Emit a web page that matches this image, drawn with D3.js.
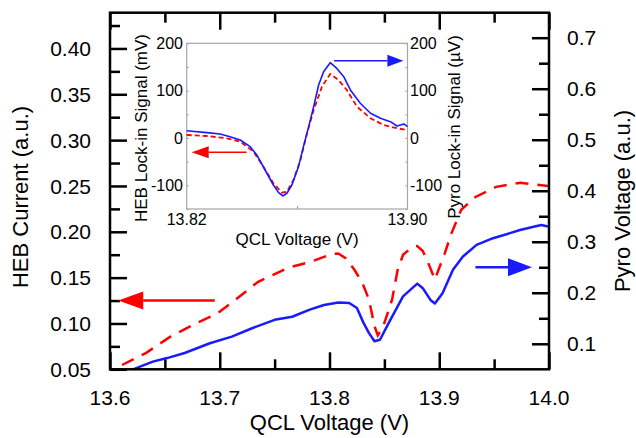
<!DOCTYPE html>
<html>
<head>
<meta charset="utf-8">
<script src="https://cdn.jsdelivr.net/npm/d3@7"></script>
<style>
	body { margin: 0; background: #fff; }
	text { font-family: 'Liberation Sans', Arial, sans-serif; fill: #000; }
</style>
</head>
<body>
<div id="chart"></div>
<script>
// main chart data
let xTicks = [13.6, 13.7, 13.8, 13.9, 14.0]
let hebTicks = [0.05, 0.10, 0.15, 0.20, 0.25, 0.30, 0.35, 0.40]
let pyroTicks = [0.1, 0.2, 0.3, 0.4, 0.5, 0.6, 0.7]

let hebV = [13.611, 13.633, 13.655, 13.678, 13.698, 13.714, 13.735, 13.763, 13.782, 13.802, 13.808, 13.815, 13.823, 13.830, 13.836, 13.841, 13.844, 13.849, 13.857, 13.862, 13.867, 13.875, 13.880, 13.885, 13.890, 13.896, 13.905, 13.911, 13.920, 13.933, 13.952, 13.974, 13.999]
let hebCurrent = [0.0547, 0.068, 0.0856, 0.100, 0.111, 0.1256, 0.1455, 0.161, 0.167, 0.1757, 0.1764, 0.171, 0.158, 0.144, 0.126, 0.097, 0.087, 0.097, 0.126, 0.158, 0.175, 0.183, 0.1845, 0.179, 0.166, 0.148, 0.1765, 0.198, 0.224, 0.238, 0.249, 0.2535, 0.250]

let pyroV = [13.621, 13.639, 13.652, 13.668, 13.691, 13.711, 13.730, 13.750, 13.766, 13.782, 13.795, 13.808, 13.818, 13.825, 13.831, 13.836, 13.841, 13.846, 13.854, 13.867, 13.880, 13.885, 13.892, 13.896, 13.903, 13.9125, 13.9216, 13.934, 13.949, 13.9645, 13.9736, 13.987, 13.993, 13.999]
let pyroVoltage = [0.05, 0.065, 0.072, 0.082, 0.101, 0.114, 0.131, 0.147, 0.153, 0.167, 0.176, 0.181, 0.180, 0.170, 0.141, 0.121, 0.105, 0.108, 0.141, 0.193, 0.218, 0.209, 0.186, 0.179, 0.199, 0.245, 0.271, 0.294, 0.307, 0.317, 0.323, 0.330, 0.333, 0.330]

// inset data
let insetXTicks = [13.82, 13.90]
let insetYTicks = [200, 100, 0, -100]

let insetHebV = [13.82, 13.8273, 13.8345, 13.8394, 13.8442, 13.8478, 13.8514, 13.8545, 13.8563, 13.8587, 13.8612, 13.8636, 13.866, 13.869, 13.872, 13.875, 13.878, 13.8817, 13.8866, 13.8914, 13.8962, 13.90]
let hebLockin = [6.3, 4.2, -0.6, -7.8, -28.9, -60.6, -95.7, -115.5, -113.4, -88.7, -46.5, 9.9, 59.1, 108.4, 135.2, 122.5, 101.4, 66.1, 41.6, 27.5, 20.5, 16.9]

let insetPyroV = [13.82, 13.8273, 13.8321, 13.8357, 13.8394, 13.843, 13.8454, 13.8484, 13.8514, 13.8533, 13.8548, 13.8563, 13.8581, 13.8605, 13.8623, 13.8642, 13.866, 13.8678, 13.8696, 13.872, 13.8744, 13.8769, 13.8793, 13.8829, 13.8866, 13.8902, 13.8938, 13.8962, 13.8987, 13.90]
let pyroLockin = [15.4, 11.3, 8.4, 2.8, -4.2, -18.3, -35.9, -67.6, -99.3, -115.5, -122.5, -116.8, -99.3, -60.6, -18.3, 23.9, 66.1, 112, 140, 159, 147, 129.5, 101.4, 73.3, 52.2, 41.6, 34.4, 25.3, 29.6, 23.9]

let width = 636
let height = 438
let red = '#ff0000'
let blue = '#1a1aff'

let svg = d3
	.select('#chart')
	.append('svg:svg')
	.attr('width', width)
	.attr('height', height)

let mLeft = 110, mRight = 549, mTop = 12.7, mBottom = 369.3

let x = d3.scaleLinear().domain([13.6, 14.0]).range([mLeft, mRight])
let yHeb = d3.scaleLinear().domain([0.05, 0.439]).range([mBottom, mTop])
let yPyro = d3.scaleLinear().domain([0.05, 0.749]).range([mBottom, mTop])

let minorX = d3.range(13.65, 14.0, 0.1)
let minorHeb = d3.range(0.075, 0.43, 0.05)
let minorPyro = d3.range(0.15, 0.7, 0.1)

// inward ticks, no labels, thick lines
let drawTicks = (axis, tr) => {
	let g = svg.append('g').attr('transform', tr).call(axis)
	g.select('.domain').remove()
	g.selectAll('.tick line').attr('stroke', '#000').attr('stroke-width', 2.5)
	g.selectAll('.tick text').remove()
}

drawTicks(d3.axisBottom(x).tickValues(xTicks).tickSize(-17), `translate(0,${mBottom})`)
drawTicks(d3.axisBottom(x).tickValues(minorX).tickSize(-10), `translate(0,${mBottom})`)
drawTicks(d3.axisTop(x).tickValues(xTicks).tickSize(-17), `translate(0,${mTop})`)
drawTicks(d3.axisTop(x).tickValues(minorX).tickSize(-10), `translate(0,${mTop})`)
drawTicks(d3.axisLeft(yHeb).tickValues(hebTicks).tickSize(-17), `translate(${mLeft},0)`)
drawTicks(d3.axisLeft(yHeb).tickValues(minorHeb).tickSize(-10), `translate(${mLeft},0)`)
drawTicks(d3.axisRight(yPyro).tickValues(pyroTicks).tickSize(-17), `translate(${mRight},0)`)
drawTicks(d3.axisRight(yPyro).tickValues(minorPyro).tickSize(-10), `translate(${mRight},0)`)

// tick labels
svg.selectAll('.xlab').data(xTicks).enter().append('text')
	.attr('x', d => x(d)).attr('y', 405)
	.attr('text-anchor', 'middle').attr('font-size', 21)
	.text(d => d.toFixed(1))
svg.selectAll('.hlab').data(hebTicks).enter().append('text')
	.attr('x', 91).attr('y', d => yHeb(d)).attr('dy', '0.36em')
	.attr('text-anchor', 'end').attr('font-size', 21)
	.text(d => d.toFixed(2))
svg.selectAll('.plab').data(pyroTicks).enter().append('text')
	.attr('x', 567).attr('y', d => yPyro(d)).attr('dy', '0.36em')
	.attr('font-size', 21)
	.text(d => d.toFixed(1))

// axis titles
svg.append('text').attr('x', (mLeft + mRight) / 2).attr('y', 430)
	.attr('text-anchor', 'middle').attr('font-size', 22).text('QCL Voltage (V)')
svg.append('text').attr('transform', 'translate(27.5,197) rotate(-90)')
	.attr('text-anchor', 'middle').attr('font-size', 22).text('HEB Current (a.u.)')
svg.append('text').attr('transform', 'translate(630,201) rotate(-90)')
	.attr('text-anchor', 'middle').attr('font-size', 22).text('Pyro Voltage (a.u.)')

// curves
let hebLine = d3.line().x((d, i) => x(hebV[i])).y(d => yHeb(d))
let pyroLine = d3.line().x((d, i) => x(pyroV[i])).y(d => yPyro(d))

svg.append('path').attr('d', pyroLine(pyroVoltage))
	.attr('fill', 'none').attr('stroke', blue).attr('stroke-width', 2.5)
	.attr('stroke-linejoin', 'round')
svg.append('path').attr('d', hebLine(hebCurrent))
	.attr('fill', 'none').attr('stroke', red).attr('stroke-width', 2.5)
	.attr('stroke-dasharray', '13,9')

// arrows
let arrow = (x0, x1, y, color, w, headL, headH) => {
	let dir = x1 > x0 ? 1 : -1
	svg.append('line')
		.attr('x1', x0).attr('x2', x1 - dir * headL).attr('y1', y).attr('y2', y)
		.attr('stroke', color).attr('stroke-width', w)
	svg.append('path')
		.attr('d', `M${x1},${y} L${x1 - dir * headL},${y - headH} L${x1 - dir * headL},${y + headH} Z`)
		.attr('fill', color)
}
arrow(x(13.6955), x(13.6075), yHeb(0.125), red, 2.5, 25, 9)
arrow(x(13.933), x(13.9845), yPyro(0.25), blue, 2.5, 24, 9)

// main frame
svg.append('rect')
	.attr('x', mLeft).attr('y', mTop)
	.attr('width', mRight - mLeft).attr('height', mBottom - mTop)
	.attr('fill', 'none').attr('stroke', '#000').attr('stroke-width', 2.5)

// inset
let iLeft = 186.7, iRight = 407.5, iTop = 43.3, iBottom = 209
let ix = d3.scaleLinear().domain([13.82, 13.90]).range([iLeft, iRight])
let iy = d3.scaleLinear().domain([-150, 200]).range([iBottom, iTop])

svg.append('rect')
	.attr('x', iLeft).attr('y', iTop)
	.attr('width', iRight - iLeft).attr('height', iBottom - iTop)
	.attr('fill', '#fff')

let drawInsetTicks = (axis, tr) => {
	let g = svg.append('g').attr('transform', tr).call(axis)
	g.select('.domain').remove()
	g.selectAll('.tick line').attr('stroke', '#999').attr('stroke-width', 1)
	g.selectAll('.tick text').remove()
}
let insetMinorY = [150, 50, -50, -150]
drawInsetTicks(d3.axisBottom(ix).tickValues([13.86]).tickSize(-3), `translate(0,${iBottom})`)
drawInsetTicks(d3.axisLeft(iy).tickValues(insetMinorY.concat(insetYTicks)).tickSize(-2), `translate(${iLeft},0)`)
drawInsetTicks(d3.axisRight(iy).tickValues(insetMinorY.concat(insetYTicks)).tickSize(-2), `translate(${iRight},0)`)

svg.append('rect')
	.attr('x', iLeft).attr('y', iTop)
	.attr('width', iRight - iLeft).attr('height', iBottom - iTop)
	.attr('fill', 'none').attr('stroke', '#a6a6a6').attr('stroke-width', 1.2)

let iHebLine = d3.line().x((d, i) => ix(insetHebV[i])).y(d => iy(d))
let iPyroLine = d3.line().x((d, i) => ix(insetPyroV[i])).y(d => iy(d))

svg.append('path').attr('d', iHebLine(hebLockin))
	.attr('fill', 'none').attr('stroke', red).attr('stroke-width', 1.8)
	.attr('stroke-dasharray', '5,3')
svg.append('path').attr('d', iPyroLine(pyroLockin))
	.attr('fill', 'none').attr('stroke', blue).attr('stroke-width', 1.6)
	.attr('stroke-linejoin', 'round')

arrow(ix(13.8417), ix(13.8218), iy(-30), red, 1.6, 17, 6)
arrow(ix(13.8734), ix(13.8985), iy(163), blue, 1.6, 16, 6)

// inset labels
svg.selectAll('.ilx').data(insetXTicks).enter().append('text')
	.attr('x', d => ix(d)).attr('y', 225)
	.attr('text-anchor', 'middle').attr('font-size', 16)
	.text(d => d.toFixed(2))
svg.selectAll('.ily').data(insetYTicks).enter().append('text')
	.attr('x', 183).attr('y', d => iy(d)).attr('dy', '0.36em')
	.attr('text-anchor', 'end').attr('font-size', 16)
	.text(d => d)
svg.selectAll('.iry').data(insetYTicks).enter().append('text')
	.attr('x', 410).attr('y', d => iy(d)).attr('dy', '0.36em')
	.attr('font-size', 16)
	.text(d => d)

svg.append('text').attr('x', 297).attr('y', 245)
	.attr('text-anchor', 'middle').attr('font-size', 17).text('QCL Voltage (V)')
svg.append('text').attr('transform', 'translate(147,128) rotate(-90)')
	.attr('text-anchor', 'middle').attr('font-size', 17).text('HEB Lock-in Signal (mV)')
svg.append('text').attr('transform', 'translate(460,127) rotate(-90)')
	.attr('text-anchor', 'middle').attr('font-size', 17).text('Pyro Lock-in Signal (\u00b5V)')
</script>
</body>
</html>
